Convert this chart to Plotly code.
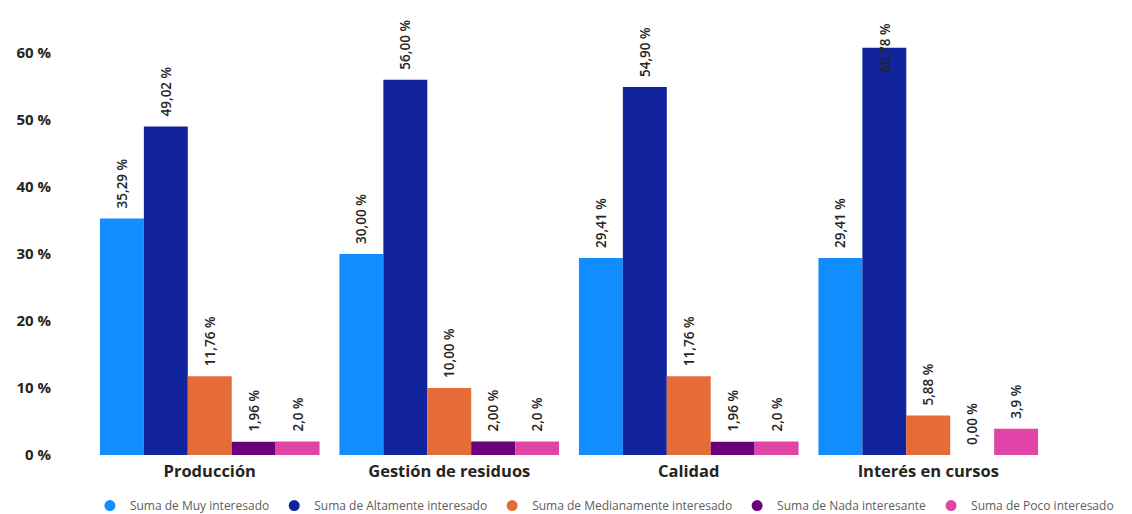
import plotly.graph_objects as go

categories = ["Producción", "Gestión de residuos", "Calidad", "Interés en cursos"]
series_names = [
    "Suma de Muy interesado",
    "Suma de Altamente interesado",
    "Suma de Medianamente interesado",
    "Suma de Nada interesante",
    "Suma de Poco interesado",
]
muy = [35.29, 30.00, 29.41, 29.41]
altamente = [49.02, 56.00, 54.90, 60.78]
medianamente = [11.76, 10.00, 11.76, 5.88]
nada = [1.96, 2.00, 1.96, 0.00]
poco = [2.0, 2.0, 2.0, 3.9]
series_values = [muy, altamente, medianamente, nada, poco]
label_formats = [".2f", ".2f", ".2f", ".2f", ".1f"]
colors = ["#118DFF", "#12239E", "#E66C37", "#6B007B", "#E044A7"]
y_ticks = [0, 10, 20, 30, 40, 50, 60]
y_max = 66.4

FONT = "Open Sans"
W, H = 1132, 514
ML, MR, MT, MB = 90, 84, 10, 59
BARGAP = 0.083
plot_w = W - ML - MR
group_px = plot_w / len(categories)
bar_px = group_px * (1 - BARGAP) / len(series_names)
label_font = dict(family=FONT, size=13.5, color="#252423", weight=600)
TOP_LIMIT = 57  # labels above this value do not fit above their bar

fig = go.Figure()
annotations = []
for k, (name, vals, fmt, col) in enumerate(zip(series_names, series_values, label_formats, colors)):
    positions = ["none" if v > TOP_LIMIT else "outside" for v in vals]
    fig.add_trace(go.Bar(
        x=categories, y=vals, name=name,
        marker=dict(color=col, line=dict(width=0)),
        texttemplate="\u00a0\u00a0%{y:" + fmt + "} %",
        textposition=positions, textangle=-90,
        textfont=label_font, constraintext="none",
        cliponaxis=False, showlegend=False,
    ))
    fig.add_trace(go.Scatter(
        x=[None], y=[None], mode="markers", name=name,
        marker=dict(symbol="circle", size=11, color=col),
        showlegend=True,
    ))
    for cat, v in zip(categories, vals):
        if v > TOP_LIMIT:
            annotations.append(dict(
                x=cat, y=v, xref="x", yref="y",
                text=format(v, fmt).replace(".", ",") + " %",
                textangle=-90, showarrow=False,
                xshift=(k - (len(series_names) - 1) / 2) * bar_px,
                yanchor="middle", font=label_font,
            ))

fig.update_layout(
    width=W, height=H,
    margin=dict(l=ML, r=MR, t=MT, b=MB, autoexpand=False),
    paper_bgcolor="white", plot_bgcolor="white",
    barmode="group", bargap=BARGAP, bargroupgap=0,
    separators=", ",
    font=dict(family=FONT),
    annotations=annotations,
    xaxis=dict(
        showgrid=False, showline=False, ticks="", automargin=False,
        ticklabelstandoff=4,
        tickfont=dict(family=FONT, size=16.5, color="#252423", weight=700),
    ),
    yaxis=dict(
        range=[0, y_max], tickmode="array", tickvals=y_ticks,
        ticktext=[f"{v} %" for v in y_ticks],
        showgrid=False, zeroline=False, showline=False, ticks="", automargin=False,
        ticklabelstandoff=38,
        tickfont=dict(family=FONT, size=15, color="#252423", weight=700),
    ),
    legend=dict(
        orientation="h", xref="paper", yref="paper",
        x=-0.0001, xanchor="left", y=-0.081, yanchor="top",
        font=dict(family=FONT, size=12, color="#605E5C"),
        itemwidth=30, tracegroupgap=0,
    ),
)
fig.write_html("out.html")
